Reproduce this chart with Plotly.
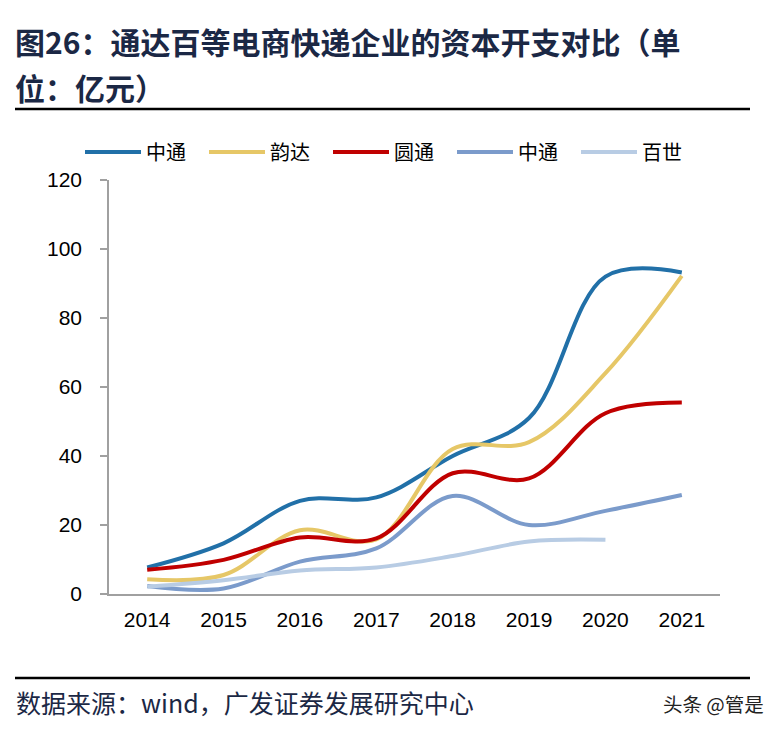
import plotly.graph_objects as go

years = ["2014", "2015", "2016", "2017", "2018", "2019", "2020", "2021"]
zto = [7.7, 14.7, 27.0, 28.0, 40.0, 51.0, 92.0, 93.2]
yunda = [4.3, 5.5, 18.5, 15.8, 42.0, 44.0, 64.0, 92.2]
yto = [7.0, 9.9, 16.4, 16.1, 35.0, 33.5, 52.4, 55.5]
sto = [2.3, 1.6, 9.4, 13.2, 28.4, 20.0, 24.1, 28.7]
best = [2.1, 4.0, 6.8, 7.7, 11.0, 15.2, 15.7]

names = ["中通", "韵达", "圆通", "中通", "百世"]
colors = ["#2170a8", "#e6c767", "#c00000", "#7b9bcb", "#b8cce4"]
series = [zto, yunda, yto, sto, best]

# page body has an 8px margin: work in window pixels, subtract offset
OFF = 8
W, H = 774 - OFF, 732 - OFF
L, R, T, B = 109, 720, 180, 594  # plot area in window pixels


def px_x(p):
    return (p - L) / (R - L)


def px_y(p):
    return (B - p) / (B - T)


fig = go.Figure()
for n, c, s in zip(names, colors, series):
    fig.add_trace(go.Scatter(
        x=years[:len(s)], y=s, name=n, mode="lines",
        line=dict(color=c, width=4, shape="spline", smoothing=1.0),
        hoverinfo="skip",
    ))

title_font = dict(family="Noto Sans CJK SC", size=30, color="#1b2845")
fig.add_annotation(text="<b>图26：通达百等电商快递企业的资本开支对比（单</b>",
                   xref="paper", yref="paper", x=px_x(13), y=px_y(41),
                   xanchor="left", yanchor="middle", showarrow=False, font=title_font)
fig.add_annotation(text="<b>位：亿元）</b>",
                   xref="paper", yref="paper", x=px_x(13), y=px_y(87),
                   xanchor="left", yanchor="middle", showarrow=False, font=title_font)
fig.add_annotation(text="数据来源：wind，广发证券发展研究中心",
                   xref="paper", yref="paper", x=px_x(14), y=px_y(702),
                   xanchor="left", yanchor="middle", showarrow=False,
                   font=dict(family="Noto Sans CJK SC", size=25, color="#1b2845"))
fig.add_annotation(text="头条 @管是",
                   xref="paper", yref="paper", x=px_x(766), y=px_y(703),
                   xanchor="right", yanchor="middle", showarrow=False,
                   font=dict(family="Noto Sans CJK SC", size=19.5, color="#222222"))

for yy in (109, 678):
    fig.add_shape(type="line", xref="paper", yref="paper",
                  x0=px_x(15), x1=px_x(750), y0=px_y(yy), y1=px_y(yy),
                  line=dict(color="black", width=2.5))

fig.update_layout(
    width=W, height=H,
    margin=dict(l=L - OFF, r=W - (R - OFF), t=T - OFF, b=H - (B - OFF), pad=0),
    paper_bgcolor="white", plot_bgcolor="white",
    showlegend=True,
    legend=dict(orientation="h", x=px_x(80), y=px_y(152), xanchor="left", yanchor="middle",
                font=dict(family="Noto Sans CJK SC", size=20, color="black"),
                itemwidth=56, entrywidth=53, entrywidthmode="pixels",
                bgcolor="rgba(0,0,0,0)"),
    xaxis=dict(type="category", range=[-0.5, 7.5], showgrid=False, zeroline=False,
               showline=True, linecolor="#a0a0a0", linewidth=1.5, ticks="",
               tickfont=dict(family="Liberation Sans", size=21, color="black"),
               ticklabelstandoff=6),
    yaxis=dict(range=[0, 120], tickvals=[0, 20, 40, 60, 80, 100, 120],
               showgrid=False, zeroline=False, showline=True, linecolor="#a0a0a0",
               linewidth=1.5, ticks="outside", ticklen=7, tickcolor="#a0a0a0", tickwidth=1.5,
               tickfont=dict(family="Liberation Sans", size=21, color="black"),
               ticklabelstandoff=14),
)

fig.write_html("out.html")
